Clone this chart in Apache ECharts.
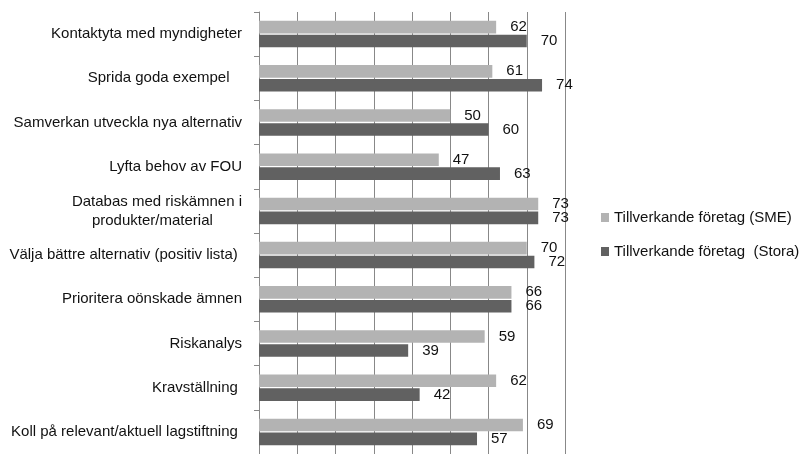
<!DOCTYPE html>
<html>
<head>
<meta charset="utf-8">
<script src="https://cdn.jsdelivr.net/npm/echarts@6/dist/echarts.min.js"></script>
<style>
html, body { margin: 0; padding: 0; background: #fff; }
#main { width: 801px; height: 454px; }
</style>
</head>
<body>
<div id="main"></div>
<script>
// kategorier uppifrån och ner
var categories = [
    'Kontaktyta med myndigheter',
    'Sprida goda exempel   ',
    'Samverkan utveckla nya alternativ',
    'Lyfta behov av FOU',
    'Databas med riskämnen i\nprodukter/material       ',
    'Välja bättre alternativ (positiv lista) ',
    'Prioritera oönskade ämnen',
    'Riskanalys',
    'Kravställning ',
    'Koll på relevant/aktuell lagstiftning '
];
var smeValues = [62, 61, 50, 47, 73, 70, 66, 59, 62, 69];
var storaValues = [70, 74, 60, 63, 73, 72, 66, 39, 42, 57];
var seriesNames = ['Tillverkande företag (SME)', 'Tillverkande företag  (Stora)'];
var seriesColors = ['#b3b3b3', '#616161'];

var font = 'Liberation Sans, Arial, sans-serif';

function makeSeries(i, values) {
    return {
        name: seriesNames[i],
        type: 'bar',
        data: values,
        barGap: '10%',
        barCategoryGap: '40%',
        itemStyle: { color: seriesColors[i] },
        label: {
            show: true,
            position: 'right',
            distance: 14,
            color: '#111',
            fontFamily: font,
            fontSize: 15
        }
    };
}

var myChart = echarts.init(document.getElementById('main'));
myChart.setOption({
    animation: false,
    grid: { left: 259, top: 12, width: 306, bottom: -4, containLabel: false },
    legend: {
        orient: 'vertical',
        left: 601,
        top: 210,
        padding: 0,
        itemWidth: 8,
        itemHeight: 9,
        itemGap: 19,
        icon: 'rect',
        textStyle: { fontFamily: font, fontSize: 15, color: '#111' },
        data: seriesNames
    },
    xAxis: {
        type: 'value',
        min: 0,
        max: 80,
        interval: 10,
        axisLabel: { show: false },
        axisLine: { show: false },
        axisTick: { show: false },
        splitLine: { show: true, lineStyle: { color: '#888', width: 1 } }
    },
    yAxis: {
        type: 'category',
        inverse: true,
        data: categories,
        axisLine: { show: true, lineStyle: { color: '#888' } },
        axisTick: { show: true, length: 5, alignWithLabel: false, lineStyle: { color: '#888' } },
        axisLabel: {
            margin: 17,
            fontFamily: font,
            fontSize: 15,
            color: '#111',
            lineHeight: 19
        }
    },
    series: [
        makeSeries(0, smeValues),
        makeSeries(1, storaValues)
    ]
});
</script>
</body>
</html>
